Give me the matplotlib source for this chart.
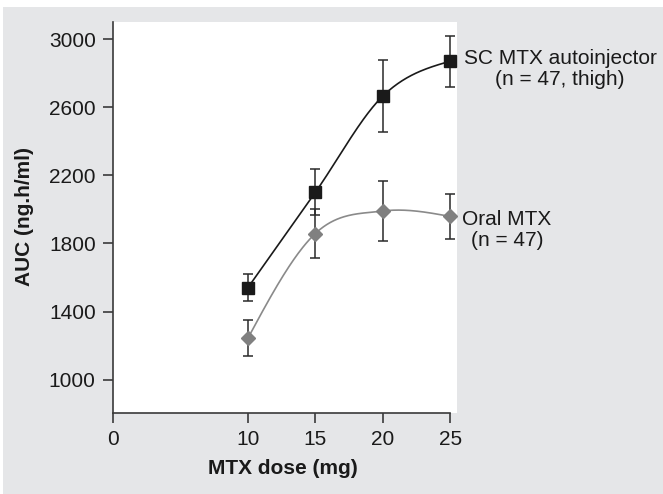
import numpy as np
import matplotlib
matplotlib.use("Agg")
import matplotlib.pyplot as plt
from matplotlib.patches import Rectangle

plt.rcParams['font.family'] = ['Liberation Sans', 'DejaVu Sans']

dose = [10, 15, 20, 25]
sc_auc = [1540, 2100, 2665, 2870]
sc_err = [78, 135, 212, 150]
oral_auc = [1243, 1858, 1990, 1958]
oral_err = [105, 142, 177, 130]
xticks = [0, 10, 15, 20, 25]
yticks = [1000, 1400, 1800, 2200, 2600, 3000]


def smooth_curve(x, y, n=60):
    """Catmull-Rom cubic Hermite curve through the data points (natural ends)."""
    x = np.asarray(x, float)
    y = np.asarray(y, float)
    m = len(x)
    d = np.diff(y) / np.diff(x)
    t = np.empty(m)
    for i in range(1, m - 1):
        t[i] = (y[i + 1] - y[i - 1]) / (x[i + 1] - x[i - 1])
    t[0] = (3 * d[0] - t[1]) / 2
    t[-1] = (3 * d[-1] - t[-2]) / 2
    xs_all, ys_all = [], []
    for i in range(m - 1):
        h = x[i + 1] - x[i]
        s = np.linspace(0, 1, n)
        h00 = 2 * s ** 3 - 3 * s ** 2 + 1
        h10 = s ** 3 - 2 * s ** 2 + s
        h01 = -2 * s ** 3 + 3 * s ** 2
        h11 = s ** 3 - s ** 2
        xs_all.append(x[i] + s * h)
        ys_all.append(h00 * y[i] + h10 * h * t[i] + h01 * y[i + 1] + h11 * h * t[i + 1])
    return np.concatenate(xs_all), np.concatenate(ys_all)


W, H = 663, 494
fig = plt.figure(figsize=(W / 100, H / 100), dpi=100)
fig.patch.set_facecolor('white')
fig.add_artist(Rectangle((3 / W, 0), 1, (H - 7) / H, transform=fig.transFigure,
                         facecolor='#e5e6e8', edgecolor='none', zorder=0))

ax = fig.add_axes([113 / W, 81 / H, (457 - 113) / W, (413 - 22) / H])
ax.set_facecolor('white')
ax.set_xlim(0, 25.5)
ax.set_ylim(804, 3100)

spine_c = '#3a3a3a'
for s in ['top', 'right']:
    ax.spines[s].set_visible(False)
for s in ['left', 'bottom']:
    ax.spines[s].set_color(spine_c)
    ax.spines[s].set_linewidth(1.2)
ax.spines['bottom'].set_bounds(0, 25)

ax.set_xticks(xticks)
ax.set_yticks(yticks)
ax.tick_params(axis='both', direction='out', length=7.5, width=1.2, color=spine_c,
               labelsize=15, labelcolor='#1a1a1a', pad=5)

xs, ys = smooth_curve(dose, oral_auc)
ax.plot(xs, ys, color='#8a8a8a', lw=1.2, zorder=2)
ax.errorbar(dose, oral_auc, yerr=oral_err, fmt='none', ecolor='#2a2a2a',
            elinewidth=1.1, capsize=3.5, capthick=1.1, zorder=3)
ax.plot(dose, oral_auc, linestyle='none', marker='D', ms=7.5, color='#808080',
        markeredgecolor='#808080', zorder=4)

xs, ys = smooth_curve(dose, sc_auc)
ax.plot(xs, ys, color='#1a1a1a', lw=1.2, zorder=2)
ax.errorbar(dose, sc_auc, yerr=sc_err, fmt='none', ecolor='#2a2a2a',
            elinewidth=1.1, capsize=3.5, capthick=1.1, zorder=3)
ax.plot(dose, sc_auc, linestyle='none', marker='s', ms=8, color='#1a1a1a', zorder=4)

for a in ax.lines:
    a.set_clip_on(False)

fig.text(24 / W, 1 - 217 / H, 'AUC (ng.h/ml)', rotation=90, ha='center', va='center',
         fontsize=15, fontweight='bold', color='#1a1a1a')
fig.text(283 / W, 1 - 468 / H, 'MTX dose (mg)', ha='center', va='center',
         fontsize=15, fontweight='bold', color='#1a1a1a')

fig.text(560 / W, 1 - 69 / H, 'SC MTX autoinjector\n(n = 47, thigh)', ha='center',
         va='center', fontsize=15, color='#1a1a1a', linespacing=1.15)
fig.text(507 / W, 1 - 230 / H, 'Oral MTX\n(n = 47)', ha='center',
         va='center', fontsize=15, color='#1a1a1a', linespacing=1.15)

fig.savefig('out.png', dpi=100, facecolor=fig.get_facecolor())
